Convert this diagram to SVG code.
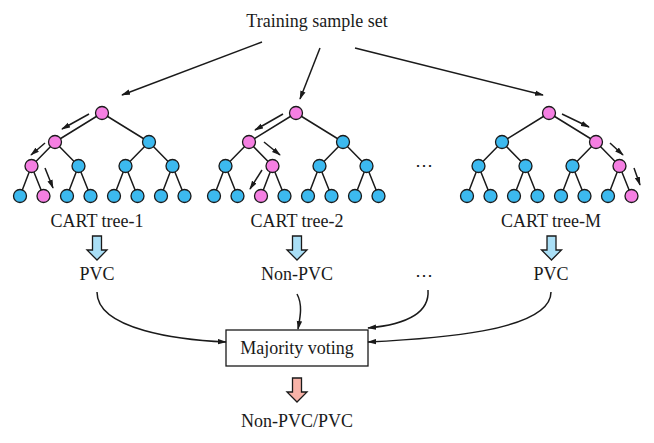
<svg xmlns="http://www.w3.org/2000/svg" width="654" height="443" viewBox="0 0 654 443">
<style>
text{font-family:"Liberation Serif","Times New Roman",serif;font-size:18px;fill:#1a1a1a;text-anchor:middle}
.e{stroke:#1a1a1a;stroke-width:1.5;fill:none}
.b{fill:#3cb9ef;stroke:#1a1a1a;stroke-width:1.3}
.p{fill:#f57fe2;stroke:#1a1a1a;stroke-width:1.3}
.a{stroke:#1a1a1a;stroke-width:1.5;fill:none;marker-end:url(#ah)}
.ba{fill:#aadff6;stroke:#1a1a1a;stroke-width:1.3}
.pa{fill:#f8b3a8;stroke:#1a1a1a;stroke-width:1.3}
</style>
<defs>
<marker id="ah" viewBox="0 0 10 6" refX="9" refY="3" markerWidth="9" markerHeight="6" orient="auto" markerUnits="userSpaceOnUse"><path d="M0,0 L10,3 L0,6 z" fill="#1a1a1a"/></marker>
<g id="edges">
<path class="e" d="M102,113 L55,142 M102,113 L149,142 M55,142 L31.5,166 M55,142 L78.5,166 M149,142 L125.5,166 M149,142 L172.5,166 M31.5,166 L20,196 M31.5,166 L43.5,196 M78.5,166 L67,196 M78.5,166 L90.5,196 M125.5,166 L114,196 M125.5,166 L137.5,196 M172.5,166 L161,196 M172.5,166 L184.5,196"/>
</g>
</defs>

<text id="title" x="317" y="27">Training sample set</text>

<g id="tree1">
<use href="#edges"/>
<circle class="p" cx="102" cy="113" r="6.5"/>
<circle class="p" cx="55" cy="142" r="6.5"/><circle class="b" cx="149" cy="142" r="6.5"/>
<circle class="p" cx="31.5" cy="166" r="6.5"/><circle class="b" cx="78.5" cy="166" r="6.5"/><circle class="b" cx="125.5" cy="166" r="6.5"/><circle class="b" cx="172.5" cy="166" r="6.5"/>
<circle class="b" cx="20" cy="196" r="6.5"/><circle class="p" cx="43.5" cy="196" r="6.5"/><circle class="b" cx="67" cy="196" r="6.5"/><circle class="b" cx="90.5" cy="196" r="6.5"/><circle class="b" cx="114" cy="196" r="6.5"/><circle class="b" cx="137.5" cy="196" r="6.5"/><circle class="b" cx="161" cy="196" r="6.5"/><circle class="b" cx="184.5" cy="196" r="6.5"/>
<text x="97" y="227">CART tree-1</text>
</g>

<g id="tree2" transform="translate(194,0)">
<use href="#edges"/>
<circle class="p" cx="102" cy="113" r="6.5"/>
<circle class="p" cx="55" cy="142" r="6.5"/><circle class="b" cx="149" cy="142" r="6.5"/>
<circle class="b" cx="31.5" cy="166" r="6.5"/><circle class="p" cx="78.5" cy="166" r="6.5"/><circle class="b" cx="125.5" cy="166" r="6.5"/><circle class="b" cx="172.5" cy="166" r="6.5"/>
<circle class="b" cx="20" cy="196" r="6.5"/><circle class="b" cx="43.5" cy="196" r="6.5"/><circle class="p" cx="67" cy="196" r="6.5"/><circle class="b" cx="90.5" cy="196" r="6.5"/><circle class="b" cx="114" cy="196" r="6.5"/><circle class="b" cx="137.5" cy="196" r="6.5"/><circle class="b" cx="161" cy="196" r="6.5"/><circle class="b" cx="184.5" cy="196" r="6.5"/>
<text x="103" y="227">CART tree-2</text>
</g>

<g id="tree3" transform="translate(447,0)">
<use href="#edges"/>
<circle class="p" cx="102" cy="113" r="6.5"/>
<circle class="b" cx="55" cy="142" r="6.5"/><circle class="p" cx="149" cy="142" r="6.5"/>
<circle class="b" cx="31.5" cy="166" r="6.5"/><circle class="b" cx="78.5" cy="166" r="6.5"/><circle class="b" cx="125.5" cy="166" r="6.5"/><circle class="p" cx="172.5" cy="166" r="6.5"/>
<circle class="b" cx="20" cy="196" r="6.5"/><circle class="b" cx="43.5" cy="196" r="6.5"/><circle class="b" cx="67" cy="196" r="6.5"/><circle class="b" cx="90.5" cy="196" r="6.5"/><circle class="b" cx="114" cy="196" r="6.5"/><circle class="b" cx="137.5" cy="196" r="6.5"/><circle class="b" cx="161" cy="196" r="6.5"/><circle class="p" cx="184.5" cy="196" r="6.5"/>
<text x="104" y="227">CART tree-M</text>
</g>

<text id="dots1" x="423.5" y="171">⋯</text>

<g id="out1">
<path class="ba" d="M92.5,236 H101.5 V250 H107 L97,260 L87,250 H92.5 Z"/>
<text x="97" y="280">PVC</text>
</g>
<g id="out2">
<path class="ba" d="M292.5,236 H301.5 V250 H307 L297,260 L287,250 H292.5 Z"/>
<text x="297" y="280">Non-PVC</text>
</g>
<text id="dots2" x="423.5" y="281">⋯</text>
<g id="out3">
<path class="ba" d="M547,236 H556 V250 H561.5 L551.5,260 L541.5,250 H547 Z"/>
<text x="551" y="280">PVC</text>
</g>

<g id="vote">
<rect x="226" y="330" width="142" height="36" fill="#fff" stroke="#1a1a1a" stroke-width="1.3"/>
<text x="297" y="354">Majority voting</text>
</g>

<g id="result">
<path class="pa" d="M292.5,378 H301.5 V392 H307 L297,402 L287,392 H292.5 Z"/>
<text x="297" y="427">Non-PVC/PVC</text>
</g>

<g id="connectors">
<path class="a" d="M262,42 L122,95"/>
<path class="a" d="M320,48 L300,99"/>
<path class="a" d="M355,48 L543,95"/>
<path class="a" d="M89,114 L62,129"/>
<path class="a" d="M45,143 L31,155"/>
<path class="a" d="M45,168 L53,188"/>
<path class="a" d="M283,114 L255,130"/>
<path class="a" d="M264,142 L280,155"/>
<path class="a" d="M262,170 L250,189"/>
<path class="a" d="M562,114 L589,127"/>
<path class="a" d="M610,143 L623,155"/>
<path class="a" d="M634,168 L640,185"/>
<path class="a" d="M97,292 C97,330 180,340 226,342"/>
<path class="a" d="M297,294 C303,305 300,318 298,329"/>
<path class="a" d="M428,290 C430,316 400,325 368,328"/>
<path class="a" d="M551,292 C551,332 430,339 368,342"/>
</g>
</svg>
